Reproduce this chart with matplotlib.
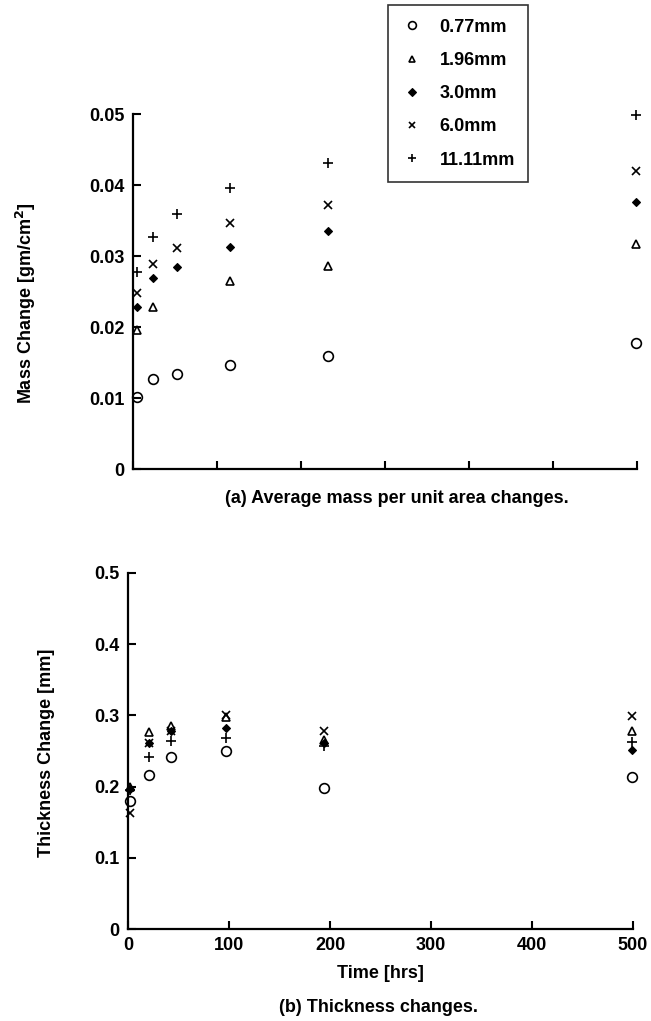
import numpy as np
import matplotlib.pyplot as plt
from matplotlib import font_manager

# sample thicknesses (legend labels)
labels = ['0.77mm', '1.96mm', '3.0mm', '6.0mm', '11.11mm']
markers = ['o', '^', 'D', 'x', '+']

# (a) mass change per unit area [gm/cm^2]
t_mass = [4, 20, 44, 96, 193, 499]
t_mass_tri = [4, 20, 96, 193, 499]
mass_077 = [0.0101, 0.0127, 0.0134, 0.0146, 0.0159, 0.0177]
mass_196 = [0.0196, 0.0228, 0.0265, 0.0286, 0.0317]
mass_30 = [0.0228, 0.0269, 0.0285, 0.0313, 0.0335, 0.0376]
mass_60 = [0.0248, 0.0289, 0.0311, 0.0346, 0.0372, 0.0420]
mass_111 = [0.0277, 0.0327, 0.0359, 0.0396, 0.0431, 0.0499]

# (b) thickness change [mm]
t_thick = [2, 21, 43, 97, 194, 499]
thick_077 = [0.180, 0.216, 0.241, 0.250, 0.198, 0.213]
thick_196 = [0.200, 0.276, 0.285, 0.298, 0.265, 0.278]
thick_30 = [0.196, 0.261, 0.278, 0.282, 0.261, 0.251]
thick_60 = [0.163, 0.261, 0.278, 0.300, 0.278, 0.299]
thick_111 = [0.195, 0.241, 0.264, 0.268, 0.257, 0.262]

names = {f.name for f in font_manager.fontManager.ttflist}
fam = 'Liberation Sans Narrow' if 'Liberation Sans Narrow' in names else 'Liberation Sans'
plt.rcParams['font.family'] = [fam, 'DejaVu Sans']
plt.rcParams['font.weight'] = 'bold'
plt.rcParams['mathtext.default'] = 'bf'

fig = plt.figure(figsize=(6.51, 10.21), dpi=100)
ax1 = fig.add_axes([0.2043, 0.5406, 0.7742, 0.3477])
ax2 = fig.add_axes([0.1966, 0.0901, 0.7758, 0.3487])


def style_marker(m):
    if m == 'o':
        return dict(marker='o', ms=7, mfc='none', mec='black', mew=1.2)
    if m == '^':
        return dict(marker='^', ms=6, mfc='none', mec='black', mew=1.2)
    if m == 'D':
        return dict(marker='D', ms=4.5, mfc='black', mec='black', mew=0.8)
    if m == 'x':
        return dict(marker='x', ms=6, mec='black', mew=1.2)
    return dict(marker='+', ms=7, mec='black', mew=1.2)


mass_x = [t_mass, t_mass_tri, t_mass, t_mass, t_mass]
mass_y = [mass_077, mass_196, mass_30, mass_60, mass_111]
thick_y = [thick_077, thick_196, thick_30, thick_60, thick_111]

handles = []
for xs, ys, m, lab in zip(mass_x, mass_y, markers, labels):
    h, = ax1.plot(xs, ys, ls='none', clip_on=False, label=lab, **style_marker(m))
    handles.append(h)
for ys, m in zip(thick_y, markers):
    ax2.plot(t_thick, ys, ls='none', clip_on=False, **style_marker(m))

for ax in (ax1, ax2):
    ax.spines['top'].set_visible(False)
    ax.spines['right'].set_visible(False)
    for s in ('left', 'bottom'):
        ax.spines[s].set_linewidth(1.6)
    ax.tick_params(direction='in', length=6, width=1.5, labelsize=13, pad=6)
    ax.set_xlim(0, 500)

ax1.set_ylim(0, 0.05)
ax1.set_yticks([0, 0.01, 0.02, 0.03, 0.04, 0.05])
ax1.set_yticklabels(['0', '0.01', '0.02', '0.03', '0.04', '0.05'])
ax1.set_xticks(np.linspace(0, 500, 7))
ax1.set_xticklabels([])

ax2.set_ylim(0, 0.5)
ax2.set_yticks([0, 0.1, 0.2, 0.3, 0.4, 0.5])
ax2.set_yticklabels(['0', '0.1', '0.2', '0.3', '0.4', '0.5'])
ax2.set_xticks([0, 100, 200, 300, 400, 500])

# axis labels and captions
fig.text(0.040, 0.703, 'Mass Change [gm/cm$^2$]', rotation=90, ha='center', va='center',
         fontsize=13, fontweight='bold')
fig.text(0.610, 0.5122, '(a) Average mass per unit area changes.', ha='center', va='center',
         fontsize=13, fontweight='bold')
fig.text(0.072, 0.2625, 'Thickness Change [mm]', rotation=90, ha='center', va='center',
         fontsize=13, fontweight='bold')
fig.text(0.585, 0.047, 'Time [hrs]', ha='center', va='center', fontsize=13, fontweight='bold')
fig.text(0.581, 0.0137, '(b) Thickness changes.', ha='center', va='center',
         fontsize=13, fontweight='bold')

leg = fig.legend(handles=handles, loc='upper left', bbox_to_anchor=(0.596, 0.995),
                 frameon=True, fancybox=False, edgecolor='black', fontsize=13,
                 labelspacing=0.9, handlelength=1.2, handletextpad=0.9,
                 borderpad=0.75, borderaxespad=0, markerscale=0.8)
leg.get_frame().set_linewidth(1.2)

fig.savefig('out.png', dpi=100)
